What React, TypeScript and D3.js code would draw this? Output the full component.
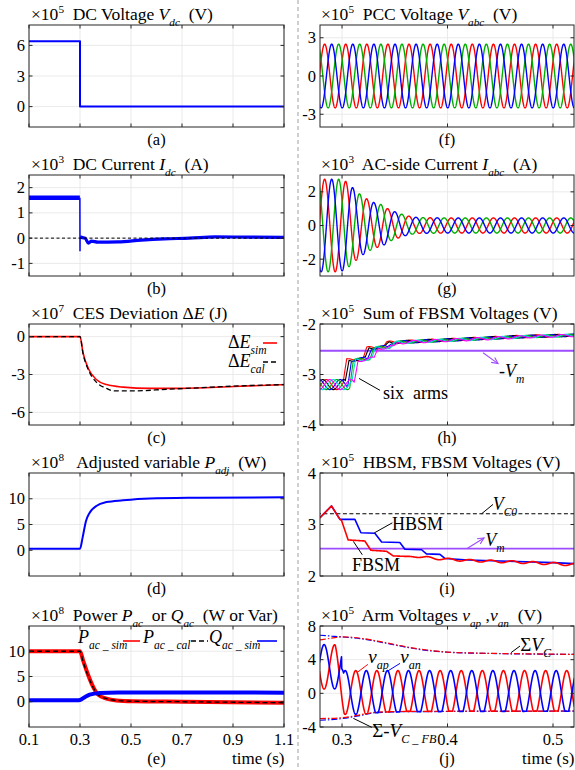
import React from "react";
import * as d3 from "d3";

// ================= DATA =================
const LEFT_T_DOMAIN: [number, number] = [0.1, 1.1];
const RIGHT_T_DOMAIN: [number, number] = [0.2791, 0.5199];
const LEFT_T_TICKS = [0.1, 0.3, 0.5, 0.7, 0.9, 1.1];
const RIGHT_T_TICKS = [0.3, 0.4, 0.5];

// (a) DC voltage (x1e5 V)
const VDC_T = [0.1, 0.3, 0.3, 1.1];
const VDC_V = [6.4, 6.4, 0, 0];

// (b) DC current (x1e3 A)
const IDC_PRE_T = [0.1, 0.2995];
const IDC_PRE_V = [1.6, 1.6];
const IDC_SPIKE_T = [0.2995, 0.3, 0.3004];
const IDC_SPIKE_V = [1.6, -0.5, 0.05];
const IDC_POST_T = [0.3004, 0.31, 0.32, 0.333, 0.345, 0.37, 0.45, 0.54, 0.63, 0.73, 0.83, 0.95, 1.1];
const IDC_POST_V = [0.05, 0.02, 0.0, -0.2, -0.12, -0.16, -0.15, -0.08, -0.03, 0.0, 0.05, 0.04, 0.03];

// (c) CES deviation (x1e7 J)
const DE_SIM_T = [0.1, 0.3, 0.312, 0.332, 0.364, 0.404, 0.469, 0.574, 0.698, 0.901, 1.1];
const DE_SIM_V = [0, 0, -1.3, -2.5, -3.4, -3.8, -4.0, -4.1, -4.1, -3.95, -3.8];
const DE_CAL_T = [0.1, 0.3, 0.312, 0.332, 0.364, 0.404, 0.43, 0.51, 0.64, 0.77, 0.901, 1.1];
const DE_CAL_V = [0, 0, -1.35, -2.6, -3.6, -4.1, -4.3, -4.3, -4.17, -4.05, -3.92, -3.8];

// (d) Adjusted variable (x1e8 W)
const PADJ_T = [0.1, 0.3, 0.31, 0.323, 0.338, 0.364, 0.404, 0.469, 0.574, 0.77, 1.1];
const PADJ_V = [0.3, 0.3, 2.4, 5.6, 7.3, 8.6, 9.35, 9.7, 10.05, 10.2, 10.3];

// (e) Power (x1e8)
const PAC_SIM_T = [0.1, 0.3, 0.312, 0.332, 0.351, 0.371, 0.404, 0.443, 0.508, 0.705, 1.1];
const PAC_SIM_V = [10, 10, 8.2, 5.3, 3.0, 1.4, 0.6, 0.25, 0.1, 0, -0.2];
const PAC_CAL_T = [0.1, 0.3, 0.312, 0.332, 0.351, 0.371, 0.404, 0.443, 0.508, 0.705, 1.1];
const PAC_CAL_V = [10, 10, 8.0, 5.1, 2.9, 1.4, 0.6, 0.25, 0.1, 0, -0.2];
const QAC_T = [0.1, 0.29, 0.3, 0.32, 0.338, 0.377, 0.45, 0.7, 1.1];
const QAC_V = [0.3, 0.3, 0.35, 0.95, 1.4, 1.75, 1.85, 1.85, 1.8];

// (f) PCC voltage (x1e5 V), 50 Hz three-phase
const GRID_HZ = 50;
const PCC_AMP = 2.5;
const PHASE_PEAK_T = [0.2835, 0.2902, 0.2968]; // a (red), b (blue), c (green)
const PHASE_COLORS = ["#ff0000", "#0000ff", "#00b000"];

// (g) AC current envelope (x1e3 A)
const IAC_ENV_T = [0.279, 0.2973, 0.3036, 0.3106, 0.317, 0.3242, 0.331, 0.3384, 0.3447, 0.3517, 0.359, 0.366, 0.3722, 0.4, 0.52];
const IAC_ENV_V = [2.75, 2.75, 2.62, 2.22, 1.86, 1.55, 1.34, 1.22, 0.94, 0.78, 0.62, 0.52, 0.47, 0.45, 0.45];

// (h) Sum of FBSM voltages (x1e5 V), six arms
const ARM_COLORS = ["#ff0000", "#000000", "#0000ff", "#00b000", "#00dede", "#ff00ff"];
const ARM_DELAY = [0, 0.0021, 0.0042, 0.0063, 0.0084, 0.0105];
const FBSUM_T = [0.26, 0.301, 0.3045, 0.32, 0.3235, 0.339, 0.3425, 0.36, 0.404, 0.467, 0.52];
const FBSUM_V = [-3.2, -3.2, -2.72, -2.68, -2.48, -2.45, -2.37, -2.35, -2.31, -2.25, -2.22];
const FBSUM_RIP_T = [0.26, 0.3, 0.305, 0.52];
const FBSUM_RIP_V = [0.1, 0.1, 0.03, 0.025];
const VM_LEVEL = 2.53;

// (i) HBSM / FBSM voltages (x1e5 V)
const HB_T = [0.279, 0.29, 0.298, 0.3122, 0.3179, 0.3311, 0.3375, 0.3548, 0.3596, 0.3754, 0.38, 0.3928, 0.3975, 0.42, 0.45, 0.5, 0.52];
const HB_V = [3.13, 3.36, 3.1, 3.1, 2.84, 2.83, 2.66, 2.65, 2.52, 2.51, 2.43, 2.42, 2.34, 2.31, 2.29, 2.26, 2.24];
const FB_T = [0.279, 0.29, 0.298, 0.2995, 0.3058, 0.3216, 0.3273, 0.3422, 0.3485, 0.374, 0.395, 0.42, 0.467, 0.52];
const FB_V = [3.13, 3.36, 3.1, 3.08, 2.7, 2.68, 2.5, 2.48, 2.39, 2.37, 2.33, 2.3, 2.27, 2.22];
const FB_RIP_T = [0.279, 0.36, 0.38, 0.52];
const FB_RIP_V = [0, 0, 0.02, 0.025];
const VC0_LEVEL = 3.21;

// (j) Arm voltages (x1e5 V)
const VAP_PEAK = 0.293;
const VAN_PEAK = 0.283;
const VAP_C_T = [0.279, 0.2935, 0.302, 0.52];
const VAP_C_V = [3.15, 3.15, 0.1, 0.1];
const VAP_A_T = [0.279, 0.3, 0.52];
const VAP_A_V = [2.65, 2.6, 2.6];
const VAN_C_T = [0.279, 0.2995, 0.2997, 0.3015, 0.52];
const VAN_C_V = [3.15, 3.15, 1.6, 0.1, 0.1];
const VAN_A_T = [0.279, 0.3, 0.52];
const VAN_A_V = [2.65, 2.6, 2.6];
const SUMVC_RED_T = [0.279, 0.29, 0.3, 0.32, 0.34, 0.36, 0.38, 0.4, 0.43, 0.47, 0.52];
const SUMVC_RED_V = [6.35, 6.55, 6.72, 6.5, 6.05, 5.55, 5.15, 4.9, 4.78, 4.7, 4.63];
const SUMVC_BLUE_T = [0.279, 0.29, 0.3, 0.32, 0.34, 0.36, 0.38, 0.4, 0.43, 0.47, 0.52];
const SUMVC_BLUE_V = [6.9, 6.8, 6.7, 6.45, 6.0, 5.5, 5.1, 4.88, 4.76, 4.68, 4.62];
const SUMFB_RED_T = [0.279, 0.3, 0.317, 0.332, 0.36, 0.52];
const SUMFB_RED_V = [-3.0, -2.9, -2.55, -2.25, -2.15, -2.1];
const SUMFB_BLUE_T = [0.279, 0.3, 0.317, 0.332, 0.36, 0.52];
const SUMFB_BLUE_V = [-3.2, -3.0, -2.65, -2.3, -2.18, -2.12];

// ================= HELPERS =================
const FONT = "'Liberation Serif', Tinos, 'Times New Roman', 'DejaVu Serif', serif";
const RED = "#ff0000";
const BLUE = "#0000ff";
const PURPLE = "#9d4dff";
const W = 575;
const H = 770;
const LEFT_X: [number, number] = [29, 284];
const RIGHT_X: [number, number] = [320, 574];
const ROWS: [number, number][] = [
  [25, 127],
  [175, 276],
  [324, 425],
  [473, 576],
  [626, 727],
];

type Seg = { t: string; i?: boolean; sub?: boolean; sup?: boolean };
type Sc = d3.ScaleLinear<number, number>;

function Rich({ x, y, segs, size, anchor = "start", fill = "#000" }: { x: number; y: number; segs: Seg[]; size: number; anchor?: string; fill?: string }) {
  let shift = 0;
  const kids = segs.map((s, k) => {
    const target = s.sub ? size * 0.33 : s.sup ? -size * 0.42 : 0;
    const dy = target - shift;
    shift = target;
    return (
      <tspan key={k} dy={dy} fontSize={s.sub || s.sup ? size * 0.64 : size} fontStyle={s.i ? "italic" : "normal"}>
        {s.t}
      </tspan>
    );
  });
  return (
    <text x={x} y={y} textAnchor={anchor as any} fill={fill} fontFamily={FONT} style={{ whiteSpace: "pre" }}>
      {kids}
    </text>
  );
}

const lerp = (T: number[], V: number[]) => d3.scaleLinear<number, number>().domain(T).range(V).clamp(true);
const zip = (T: number[], V: number[]): [number, number][] => T.map((t, k) => [t, V[k]]);
const SAMPLE_T = d3.range(RIGHT_T_DOMAIN[0] - 0.0005, RIGHT_T_DOMAIN[1] + 0.0005, 0.0001);
const wave = (f: (t: number) => number): [number, number][] => SAMPLE_T.map((t) => [t, f(t)]);
const omega = 2 * Math.PI * GRID_HZ;

function pathOf(pts: [number, number][], x: Sc, y: Sc, smooth = false) {
  const g = d3
    .line<[number, number]>()
    .x((d) => x(d[0]))
    .y((d) => y(d[1]));
  if (smooth) g.curve(d3.curveMonotoneX);
  return g(pts) || "";
}

function Arrow({ x1, y1, x2, y2, color }: { x1: number; y1: number; x2: number; y2: number; color: string }) {
  const a = Math.atan2(y2 - y1, x2 - x1);
  const L = 7;
  const s = 0.45;
  const p1 = [x2 - L * Math.cos(a - s), y2 - L * Math.sin(a - s)];
  const p2 = [x2 - L * Math.cos(a + s), y2 - L * Math.sin(a + s)];
  return (
    <g stroke={color} strokeWidth={1.1} fill="none">
      <line x1={x1} y1={y1} x2={x2} y2={y2} />
      <polyline points={`${p1[0]},${p1[1]} ${x2},${y2} ${p2[0]},${p2[1]}`} />
    </g>
  );
}

function T({ x, y, size, anchor = "start", children }: { x: number; y: number; size: number; anchor?: string; children: React.ReactNode }) {
  return (
    <text x={x} y={y} textAnchor={anchor as any} fill="#000" fontFamily={FONT} fontSize={size} style={{ whiteSpace: "pre" }}>
      {children}
    </text>
  );
}

type PanelProps = {
  id: string;
  col: 0 | 1;
  row: number;
  yDomain: [number, number];
  yTicks: number[];
  title: Seg[];
  label: string;
  showX?: boolean;
  render: (x: Sc, y: Sc) => React.ReactNode;
  overlay?: (x: Sc, y: Sc) => React.ReactNode;
};

function Panel({ id, col, row, yDomain, yTicks, title, label, showX, render, overlay }: PanelProps) {
  const [x0, x1] = col === 0 ? LEFT_X : RIGHT_X;
  const [y0, y1] = ROWS[row];
  const tDomain = col === 0 ? LEFT_T_DOMAIN : RIGHT_T_DOMAIN;
  const tTicks = col === 0 ? LEFT_T_TICKS : RIGHT_T_TICKS;
  const x = d3.scaleLinear().domain(tDomain).range([x0, x1]);
  const y = d3.scaleLinear().domain(yDomain).range([y1, y0]);
  const TL = 3.5;
  return (
    <g>
      <defs>
        <clipPath id={id}>
          <rect x={x0} y={y0} width={x1 - x0} height={y1 - y0} />
        </clipPath>
      </defs>
      <rect x={x0} y={y0} width={x1 - x0} height={y1 - y0} fill="#fff" />
      {tTicks.map((t) => (
        <line key={"gx" + t} x1={x(t)} x2={x(t)} y1={y0} y2={y1} stroke="#e4e4e4" strokeWidth={0.8} />
      ))}
      {yTicks.map((v) => (
        <line key={"gy" + v} x1={x0} x2={x1} y1={y(v)} y2={y(v)} stroke="#e4e4e4" strokeWidth={0.8} />
      ))}
      <g clipPath={`url(#${id})`}>{render(x, y)}</g>
      <rect x={x0} y={y0} width={x1 - x0} height={y1 - y0} fill="none" stroke="#262626" strokeWidth={1} />
      {tTicks.map((t) => (
        <g key={"tx" + t} stroke="#262626" strokeWidth={1}>
          <line x1={x(t)} x2={x(t)} y1={y1} y2={y1 - TL} />
          <line x1={x(t)} x2={x(t)} y1={y0} y2={y0 + TL} />
        </g>
      ))}
      {yTicks.map((v) => (
        <g key={"ty" + v} stroke="#262626" strokeWidth={1}>
          <line x1={x0} x2={x0 + TL} y1={y(v)} y2={y(v)} />
          <line x1={x1} x2={x1 - TL} y1={y(v)} y2={y(v)} />
        </g>
      ))}
      {yTicks.map((v) => (
        <T key={"ly" + v} x={x0 - 4} y={y(v) + 5.5} size={16.5} anchor="end">
          {v < 0 ? "-" + Math.abs(v) : String(v)}
        </T>
      ))}
      {showX &&
        tTicks.map((t) => (
          <T key={"lx" + t} x={x(t)} y={y1 + 17.5} size={16.5} anchor="middle">
            {t.toFixed(1)}
          </T>
        ))}
      {showX && (
        <T x={x1 - 52} y={y1 + 36.5} size={17}>
          time (s)
        </T>
      )}
      <Rich x={col === 0 ? x0 + 2 : x0 + 1} y={y0 - 5} segs={title} size={17.5} />
      <T x={(x0 + x1) / 2} y={showX ? y1 + 37 : y1 + 18} size={16.5} anchor="middle">
        {label}
      </T>
      {overlay && overlay(x, y)}
    </g>
  );
}

// ================= APP =================
export default function App() {
  const lineProps = { fill: "none", strokeLinejoin: "round" as const, strokeLinecap: "butt" as const };

  const iacEnv = lerp(IAC_ENV_T, IAC_ENV_V);
  const fbBase = lerp(FBSUM_T, FBSUM_V);
  const fbRip = lerp(FBSUM_RIP_T, FBSUM_RIP_V);
  const fbRipI = lerp(FB_RIP_T, FB_RIP_V);
  const fbI = lerp(FB_T, FB_V);
  const vapC = lerp(VAP_C_T, VAP_C_V);
  const vapA = lerp(VAP_A_T, VAP_A_V);
  const vanC = lerp(VAN_C_T, VAN_C_V);
  const vanA = lerp(VAN_A_T, VAN_A_V);
  const lowRed = lerp(SUMFB_RED_T, SUMFB_RED_V);
  const lowBlue = lerp(SUMFB_BLUE_T, SUMFB_BLUE_V);

  const x10 = (p: string): Seg[] => [{ t: "×10" }, { t: p, sup: true }, { t: "  " }];

  return (
    <svg width={W} height={H} viewBox={`0 0 ${W} ${H}`} fontFamily={FONT} style={{ position: "absolute", left: 0, top: 0, background: "#fff" }}>
      <rect x={0} y={0} width={W} height={H} fill="#fff" />
      <line x1={298} x2={298} y1={0} y2={H} stroke="#a0a0a0" strokeWidth={1} strokeDasharray="4,3" />

      {/* (a) */}
      <Panel
        id="pa"
        col={0}
        row={0}
        yDomain={[-2, 8]}
        yTicks={[0, 3, 6]}
        title={[...x10("5"), { t: "DC Voltage " }, { t: "V", i: true }, { t: "dc", i: true, sub: true }, { t: "  (V)" }]}
        label="(a)"
        render={(x, y) => <path d={pathOf(zip(VDC_T, VDC_V), x, y)} stroke={BLUE} strokeWidth={2} {...lineProps} />}
      />

      {/* (b) */}
      <Panel
        id="pb"
        col={0}
        row={1}
        yDomain={[-1.5, 2.5]}
        yTicks={[-1, 0, 1, 2]}
        title={[...x10("3"), { t: "DC Current " }, { t: "I", i: true }, { t: "dc", i: true, sub: true }, { t: "  (A)" }]}
        label="(b)"
        render={(x, y) => (
          <g>
            <path d={pathOf(zip(IDC_PRE_T, IDC_PRE_V), x, y)} stroke={BLUE} strokeWidth={4.5} {...lineProps} />
            <path d={pathOf(zip(IDC_SPIKE_T, IDC_SPIKE_V), x, y)} stroke={BLUE} strokeWidth={1.5} {...lineProps} />
            <path d={pathOf(zip(IDC_POST_T, IDC_POST_V), x, y, true)} stroke={BLUE} strokeWidth={3.2} {...lineProps} />
            <line x1={x(0.1)} x2={x(1.1)} y1={y(0)} y2={y(0)} stroke="#000" strokeWidth={1} strokeDasharray="3,2.5" />
          </g>
        )}
      />

      {/* (c) */}
      <Panel
        id="pc"
        col={0}
        row={2}
        yDomain={[-7, 1]}
        yTicks={[-6, -3, 0]}
        title={[...x10("7"), { t: "CES Deviation Δ" }, { t: "E", i: true }, { t: " (J)" }]}
        label="(c)"
        render={(x, y) => (
          <g>
            <path d={pathOf(zip(DE_SIM_T, DE_SIM_V), x, y, true)} stroke={RED} strokeWidth={1.6} {...lineProps} />
            <path d={pathOf(zip(DE_CAL_T, DE_CAL_V), x, y, true)} stroke="#000" strokeWidth={1.3} strokeDasharray="5,3" {...lineProps} />
          </g>
        )}
        overlay={() => (
          <g>
            <Rich x={228} y={348} segs={[{ t: "Δ" }, { t: "E", i: true }, { t: "sim", i: true, sub: true }]} size={18} />
            <line x1={263} x2={277} y1={343} y2={343} stroke={RED} strokeWidth={1.6} />
            <Rich x={228} y={367} segs={[{ t: "Δ" }, { t: "E", i: true }, { t: "cal", i: true, sub: true }]} size={18} />
            <line x1={263} x2={277} y1={362} y2={362} stroke="#000" strokeWidth={1.3} strokeDasharray="5,3" />
          </g>
        )}
      />

      {/* (d) */}
      <Panel
        id="pd"
        col={0}
        row={3}
        yDomain={[-5, 15]}
        yTicks={[0, 5, 10]}
        title={[...x10("8"), { t: " Adjusted variable " }, { t: "P", i: true }, { t: "adj", i: true, sub: true }, { t: "  (W)" }]}
        label="(d)"
        render={(x, y) => <path d={pathOf(zip(PADJ_T, PADJ_V), x, y, true)} stroke={BLUE} strokeWidth={2} {...lineProps} />}
      />

      {/* (e) */}
      <Panel
        id="pe"
        col={0}
        row={4}
        yDomain={[-5, 15]}
        yTicks={[0, 5, 10]}
        showX
        title={[
          ...x10("8"),
          { t: "Power " },
          { t: "P", i: true },
          { t: "ac", i: true, sub: true },
          { t: "  or " },
          { t: "Q", i: true },
          { t: "ac", i: true, sub: true },
          { t: "  (W or Var)" },
        ]}
        label="(e)"
        render={(x, y) => (
          <g>
            <path d={pathOf(zip(PAC_SIM_T, PAC_SIM_V), x, y, true)} stroke={RED} strokeWidth={4} {...lineProps} />
            <path d={pathOf(zip(PAC_CAL_T, PAC_CAL_V), x, y, true)} stroke="#000" strokeWidth={1.3} strokeDasharray="5,3" {...lineProps} />
            <path d={pathOf(zip(QAC_T, QAC_V), x, y, true)} stroke={BLUE} strokeWidth={4} {...lineProps} />
          </g>
        )}
        overlay={() => (
          <g>
            <Rich x={78} y={643} segs={[{ t: "P", i: true }, { t: "ac _ sim", i: true, sub: true }]} size={18} />
            <line x1={123} x2={140} y1={641} y2={641} stroke={RED} strokeWidth={1.6} />
            <Rich x={143} y={643} segs={[{ t: "P", i: true }, { t: "ac _ cal", i: true, sub: true }]} size={18} />
            <line x1={191} x2={208} y1={641} y2={641} stroke="#000" strokeWidth={1.3} strokeDasharray="5,3" />
            <Rich x={209} y={643} segs={[{ t: "Q", i: true }, { t: "ac _ sim", i: true, sub: true }]} size={18} />
            <line x1={257} x2={277} y1={641} y2={641} stroke={BLUE} strokeWidth={1.6} />
          </g>
        )}
      />

      {/* (f) */}
      <Panel
        id="pf"
        col={1}
        row={0}
        yDomain={[-4, 4]}
        yTicks={[-3, 0, 3]}
        title={[...x10("5"), { t: "PCC Voltage " }, { t: "V", i: true }, { t: "abc", i: true, sub: true }, { t: "  (V)" }]}
        label="(f)"
        render={(x, y) => (
          <g>
            {[0, 2, 1].map((k) => (
              <path
                key={k}
                d={pathOf(wave((t) => PCC_AMP * Math.cos(omega * (t - PHASE_PEAK_T[k]))), x, y)}
                stroke={PHASE_COLORS[k]}
                strokeWidth={1.4}
                {...lineProps}
              />
            ))}
          </g>
        )}
      />

      {/* (g) */}
      <Panel
        id="pg"
        col={1}
        row={1}
        yDomain={[-3, 3]}
        yTicks={[-2, 0, 2]}
        title={[...x10("3"), { t: "AC-side Current " }, { t: "I", i: true }, { t: "abc", i: true, sub: true }, { t: "  (A)" }]}
        label="(g)"
        render={(x, y) => (
          <g>
            {[0, 2, 1].map((k) => (
              <path
                key={k}
                d={pathOf(wave((t) => iacEnv(t) * Math.cos(omega * (t - PHASE_PEAK_T[k]))), x, y)}
                stroke={PHASE_COLORS[k]}
                strokeWidth={1.4}
                {...lineProps}
              />
            ))}
          </g>
        )}
      />

      {/* (h) */}
      <Panel
        id="ph"
        col={1}
        row={2}
        yDomain={[-4, -2]}
        yTicks={[-4, -3, -2]}
        title={[...x10("5"), { t: "Sum of FBSM Voltages (V)" }]}
        label="(h)"
        render={(x, y) => (
          <g>
            <line x1={x(0.27)} x2={x(0.53)} y1={y(-VM_LEVEL)} y2={y(-VM_LEVEL)} stroke={PURPLE} strokeWidth={1.8} />
            {ARM_COLORS.map((c, k) => (
              <path
                key={k}
                d={pathOf(
                  wave((t) => fbBase(t - ARM_DELAY[k]) + fbRip(t - ARM_DELAY[k]) * Math.sin(omega * t + (k * Math.PI) / 3)),
                  x,
                  y
                )}
                stroke={c}
                strokeWidth={1.1}
                {...lineProps}
              />
            ))}
          </g>
        )}
        overlay={(x, y) => (
          <g>
            <Arrow x1={x(0.4337)} y1={y(-2.569)} x2={x(0.4479)} y2={y(-2.784)} color={PURPLE} />
            <Rich x={x(0.4488)} y={y(-3.05)} segs={[{ t: "-" }, { t: "V", i: true }, { t: "m", i: true, sub: true }]} size={18} />
            <line x1={x(0.3161)} y1={y(-3.078)} x2={x(0.336)} y2={y(-3.314)} stroke="#000" strokeWidth={1} />
            <T x={x(0.3389)} y={y(-3.49)} size={18}>
              six  arms
            </T>
          </g>
        )}
      />

      {/* (i) */}
      <Panel
        id="pi"
        col={1}
        row={3}
        yDomain={[2, 4]}
        yTicks={[2, 3, 4]}
        title={[...x10("5"), { t: "HBSM, FBSM Voltages (V)" }]}
        label="(i)"
        render={(x, y) => (
          <g>
            <line x1={x(0.27)} x2={x(0.53)} y1={y(VC0_LEVEL)} y2={y(VC0_LEVEL)} stroke="#000" strokeWidth={1.1} strokeDasharray="4,2.5" />
            <line x1={x(0.27)} x2={x(0.53)} y1={y(VM_LEVEL)} y2={y(VM_LEVEL)} stroke={PURPLE} strokeWidth={1.8} />
            <path d={pathOf(zip(HB_T, HB_V), x, y)} stroke={BLUE} strokeWidth={1.6} {...lineProps} />
            <path
              d={pathOf(wave((t) => fbI(t) + fbRipI(t) * Math.sin(omega * t + 1.2)), x, y)}
              stroke={RED}
              strokeWidth={1.6}
              {...lineProps}
            />
          </g>
        )}
        overlay={(x, y) => (
          <g>
            <line x1={x(0.4324)} y1={y(3.21)} x2={x(0.4431)} y2={y(3.39)} stroke="#000" strokeWidth={1} />
            <Rich x={x(0.4428)} y={y(3.275)} segs={[{ t: "V", i: true }, { t: "C0", i: true, sub: true }]} size={18} />
            <line x1={x(0.3306)} y1={y(2.837)} x2={x(0.3477)} y2={y(3.033)} stroke="#000" strokeWidth={1} />
            <T x={x(0.3474)} y={y(2.902)} size={18}>
              HBSM
            </T>
            <Arrow x1={x(0.4182)} y1={y(2.53)} x2={x(0.4346)} y2={y(2.739)} color={PURPLE} />
            <Rich x={x(0.4358)} y={y(2.59)} segs={[{ t: "V", i: true }, { t: "m", i: true, sub: true }]} size={18} />
            <line x1={x(0.3192)} y1={y(2.412)} x2={x(0.3107)} y2={y(2.673)} stroke="#000" strokeWidth={1} />
            <T x={x(0.3095)} y={y(2.098)} size={18}>
              FBSM
            </T>
          </g>
        )}
      />

      {/* (j) */}
      <Panel
        id="pj"
        col={1}
        row={4}
        yDomain={[-4, 8]}
        yTicks={[-4, 0, 4, 8]}
        showX
        title={[
          ...x10("5"),
          { t: "Arm Voltages " },
          { t: "v", i: true },
          { t: "ap", i: true, sub: true },
          { t: " ," },
          { t: "v", i: true },
          { t: "an", i: true, sub: true },
          { t: "  (V)" },
        ]}
        label="(j)"
        render={(x, y) => (
          <g>
            <path d={pathOf(zip(SUMVC_BLUE_T, SUMVC_BLUE_V), x, y, true)} stroke={BLUE} strokeWidth={1.2} strokeDasharray="6,2,1.5,2" {...lineProps} />
            <path d={pathOf(zip(SUMVC_RED_T, SUMVC_RED_V), x, y, true)} stroke={RED} strokeWidth={1.2} strokeDasharray="6,2,1.5,2" {...lineProps} />
            <path d={pathOf(zip(SUMFB_BLUE_T, SUMFB_BLUE_V), x, y, true)} stroke={BLUE} strokeWidth={1.2} strokeDasharray="6,2,1.5,2" {...lineProps} />
            <path d={pathOf(zip(SUMFB_RED_T, SUMFB_RED_V), x, y, true)} stroke={RED} strokeWidth={1.2} strokeDasharray="6,2,1.5,2" {...lineProps} />
            <path
              d={pathOf(wave((t) => Math.max(lowRed(t), vapC(t) + vapA(t) * Math.cos(omega * (t - VAP_PEAK)))), x, y)}
              stroke={RED}
              strokeWidth={1.6}
              {...lineProps}
            />
            <path
              d={pathOf(wave((t) => Math.max(lowBlue(t), vanC(t) + vanA(t) * Math.cos(omega * (t - VAN_PEAK)))), x, y)}
              stroke={BLUE}
              strokeWidth={1.6}
              {...lineProps}
            />
          </g>
        )}
        overlay={(x, y) => (
          <g>
            <line x1={x(0.4602)} y1={y(4.83)} x2={x(0.4687)} y2={y(5.62)} stroke="#000" strokeWidth={1} />
            <Rich x={x(0.469)} y={y(5.03)} segs={[{ t: "Σ" }, { t: "V", i: true }, { t: "C", i: true, sub: true }]} size={19} />
            <line x1={x(0.3149)} y1={y(2.53)} x2={x(0.3244)} y2={y(3.44)} stroke={RED} strokeWidth={1} />
            <Rich x={x(0.3248)} y={y(3.6)} segs={[{ t: "v", i: true }, { t: "ap", i: true, sub: true }]} size={19} />
            <line x1={x(0.3433)} y1={y(2.65)} x2={x(0.355)} y2={y(3.56)} stroke={BLUE} strokeWidth={1} />
            <Rich x={x(0.3552)} y={y(3.6)} segs={[{ t: "v", i: true }, { t: "an", i: true, sub: true }]} size={19} />
            <line x1={x(0.3107)} y1={y(-2.97)} x2={x(0.3282)} y2={y(-4.04)} stroke="#000" strokeWidth={1} />
            <Rich
              x={x(0.3286)}
              y={y(-5.19)}
              segs={[{ t: "Σ" }, { t: "-" }, { t: "V", i: true }, { t: "C _ FB", i: true, sub: true }]}
              size={19}
            />
          </g>
        )}
      />
    </svg>
  );
}
